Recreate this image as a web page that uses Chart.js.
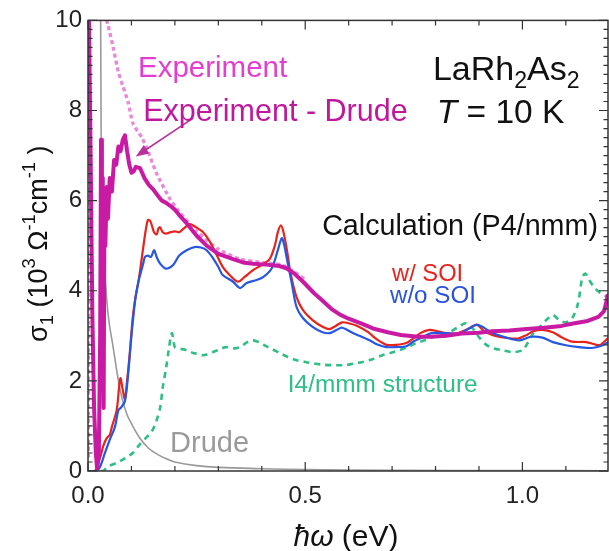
<!DOCTYPE html>
<html><head><meta charset="utf-8">
<script src="https://cdn.jsdelivr.net/npm/chart.js@4"></script>
<style>html,body{margin:0;padding:0;background:#fff}</style>
</head><body>
<canvas id="c" width="609" height="551"></canvas>
<script>
// ---- data (photon energy in eV, sigma_1 in 10^3 Ohm^-1 cm^-1) ----
const expE =     [0.001,0.003,0.02,0.040,0.043,0.046,0.058,0.070,0.080,0.092,0.104,0.124,0.136,0.158,0.188,0.210,0.250,0.300,0.350,0.400,0.450,0.500];
const expSigma = [0.3,  14,   14,  10.3, 10.0, 9.9,  9.4,  8.85, 8.55, 8.2,  7.7,  7.4,  7.15, 6.6,  6.05, 5.75, 5.32, 4.92, 4.7,  4.63, 4.56, 4.25];

const expDrudeE =     [0.001,0.006,0.010,0.014,0.018,0.021,0.025,0.028,0.030,0.032,0.034,0.036,0.038,0.040,0.043,0.046,0.050,0.055,0.060,0.065,0.070,0.075,0.080,0.085,0.090,0.095,0.100,0.105,0.110,0.120,0.130,0.140,0.150,0.160,0.170,0.180,0.190,0.200,0.210,0.227,0.250,0.273,0.300,0.334,0.360,0.380,0.410,0.440,0.457,0.475,0.495,0.520,0.540,0.560,0.580,0.600,0.630,0.660,0.690,0.720,0.760,0.790,0.825,0.860,0.900,0.930,0.970,1.010,1.050,1.090,1.120,1.150,1.175,1.188,1.197];
const expDrudeSigma = [11,   7,    3.5,  1.4,  0.4,  0.05, 0.4,  3.0,  7.35, 4.2,  6.5,  1.4,  6.2,  5.0,  6.3,  5.6,  6.5,  6.2,  6.9,  6.8,  7.2,  7.1,  7.35, 7.45, 7.1,  6.8,  6.62, 6.65, 6.75, 6.72, 6.5,  6.35, 6.25, 6.12, 6.0,  5.95, 5.88, 5.8,  5.68, 5.5,  5.22, 5.0,  4.82, 4.7,  4.62, 4.6,  4.58, 4.55, 4.5,  4.38, 4.2,  3.95, 3.78, 3.6,  3.47, 3.38, 3.27, 3.15, 3.08, 3.02, 2.98, 2.98, 3.0,  3.05, 3.07, 3.1,  3.12, 3.15, 3.18, 3.22, 3.28, 3.33, 3.42, 3.55, 3.9];

const soiE =     [0,0.016,0.028,0.035,0.043,0.050,0.055,0.066,0.072,0.075,0.080,0.085,0.090,0.096,0.103,0.110,0.116,0.122,0.127,0.133,0.138,0.143,0.147,0.152,0.158,0.162,0.166,0.172,0.180,0.190,0.200,0.210,0.220,0.235,0.250,0.265,0.280,0.296,0.310,0.326,0.345,0.360,0.380,0.400,0.418,0.430,0.437,0.444,0.450,0.458,0.466,0.480,0.495,0.517,0.540,0.555,0.570,0.585,0.600,0.620,0.645,0.665,0.687,0.710,0.733,0.750,0.765,0.786,0.805,0.825,0.845,0.862,0.880,0.895,0.910,0.930,0.960,0.990,1.010,1.025,1.046,1.070,1.090,1.115,1.147,1.170,1.180,1.197];
const soiSigma = [0,0,    0.3,  0.55, 0.73, 0.8,  0.98, 1.35, 1.9,  2.06, 1.8,  1.6,  2.0,  2.6,  3.4,  3.9,  4.2,  4.6,  4.95, 5.35, 5.57, 5.55, 5.45, 5.3,  5.25, 5.38, 5.41, 5.3,  5.27, 5.3,  5.32, 5.3,  5.38, 5.48, 5.4,  5.3,  5.1,  4.8,  4.53, 4.35, 4.2,  4.3,  4.46, 4.57, 4.7,  5.0,  5.3,  5.45, 5.3,  4.9,  4.4,  3.86, 3.57, 3.35, 3.2,  3.15, 3.22, 3.3,  3.28, 3.22, 3.08, 2.92, 2.8,  2.8,  2.84, 2.95, 3.06, 3.13, 3.1,  3.06, 3.05, 3.1,  3.18, 3.25, 3.12, 3.02, 2.96, 2.94, 3.02, 3.1,  3.13, 3.08, 2.97, 2.87, 2.86, 2.8,  2.8,  2.95];

const noSoiE =     [0,0.020,0.028,0.039,0.050,0.062,0.070,0.077,0.085,0.092,0.100,0.108,0.115,0.120,0.127,0.131,0.138,0.145,0.152,0.158,0.166,0.177,0.185,0.196,0.210,0.227,0.245,0.260,0.273,0.288,0.300,0.310,0.334,0.350,0.365,0.388,0.403,0.423,0.437,0.446,0.452,0.457,0.469,0.480,0.495,0.517,0.540,0.556,0.572,0.585,0.610,0.625,0.648,0.668,0.687,0.710,0.733,0.750,0.770,0.790,0.820,0.855,0.875,0.894,0.908,0.931,0.963,0.993,1.020,1.046,1.070,1.100,1.130,1.160,1.182,1.197];
const noSoiSigma = [0,0,    0.1,  0.4,  0.69, 0.98, 1.35, 1.42, 1.55, 2.1,  3.0,  3.75, 4.15, 4.35, 4.6,  4.75, 4.78, 4.75, 4.9,  4.75, 4.6,  4.5,  4.5,  4.57, 4.78, 4.9,  4.97, 4.96, 4.9,  4.72, 4.53, 4.35, 4.2,  4.06, 4.17, 4.24, 4.3,  4.5,  4.9,  5.17, 5.0,  4.75, 4.17, 3.64, 3.39, 3.2,  3.08, 3.06, 3.13, 3.18, 3.06, 3.0,  2.9,  2.8,  2.75, 2.75, 2.77, 2.88, 2.97, 3.06, 3.06, 3.05, 3.15, 3.24, 3.2,  3.06, 2.96, 2.9,  2.98, 2.96, 2.86, 2.79, 2.75, 2.73, 2.78, 2.86];

const i4E =     [0.030,0.035,0.046,0.066,0.080,0.090,0.103,0.120,0.135,0.147,0.157,0.166,0.172,0.180,0.186,0.193,0.200,0.210,0.227,0.242,0.265,0.285,0.303,0.318,0.334,0.350,0.365,0.380,0.395,0.410,0.425,0.441,0.460,0.480,0.500,0.517,0.540,0.560,0.590,0.610,0.632,0.655,0.678,0.700,0.717,0.740,0.756,0.775,0.793,0.812,0.832,0.850,0.870,0.885,0.900,0.917,0.935,0.954,0.977,1.000,1.012,1.025,1.040,1.055,1.070,1.085,1.100,1.115,1.128,1.138,1.145,1.153,1.165,1.177,1.190,1.197];
const i4Sigma = [0,    0,    0.1,  0.18, 0.25, 0.31, 0.4,  0.6,  0.75, 0.88, 1.1,  1.4,  1.85, 2.3,  2.7,  3.06, 2.75, 2.72, 2.68, 2.62, 2.57, 2.63, 2.7,  2.75, 2.72, 2.75, 2.85, 2.9,  2.85, 2.77, 2.7,  2.62, 2.53, 2.46, 2.42, 2.39, 2.36, 2.35, 2.35, 2.38, 2.42, 2.48, 2.57, 2.63, 2.68, 2.77, 2.84, 2.9,  2.97, 3.02, 3.08, 3.18, 3.28, 3.17, 2.97, 2.8,  2.72, 2.68, 2.64, 2.68, 2.84, 3.06, 3.2,  3.35, 3.46, 3.35, 3.3,  3.4,  3.72, 4.3,  4.38, 4.25, 4.08, 3.97, 3.9,  3.8];

const drudeE =     [0.029,0.030,0.031,0.033,0.036,0.040,0.045,0.050,0.057,0.065,0.072,0.080,0.090,0.100,0.120,0.140,0.160,0.180,0.200,0.250,0.300,0.400,0.500,0.700,1.000,1.197];
const drudeSigma = [10.3, 8.0,  6.5,  5.5,  4.8,  4.2,  3.6,  3.2,  2.8,  2.3,  1.9,  1.55, 1.25, 1.05, 0.72, 0.5,  0.37, 0.27, 0.2,  0.12, 0.08, 0.05, 0.03, 0.015,0.01, 0.005];

const xTickValues = [0, 0.5, 1.0];
const xTickLabels = ['0.0', '0.5', '1.0'];
const yTickValues = [0, 2, 4, 6, 8, 10];
const yTickLabels = ['0', '2', '4', '6', '8', '10'];

// ---- helpers ----
const FF = '"Liberation Sans", Arial, Helvetica, sans-serif';
const pts = (xs, ys) => xs.map((x, i) => ({x, y: ys[i]}));
function ds(label, xs, ys, color, width, dash, order, tension) {
  return {label, data: pts(xs, ys), borderColor: color, borderWidth: width, borderDash: dash,
    showLine: true, pointRadius: 0, fill: false, order, tension, clip: 0, borderJoinStyle: 'round', borderCapStyle: dash.length ? 'butt' : 'round'};
}

function drawRich(ctx, parts, x, y, size, color, align) {
  ctx.save();
  ctx.fillStyle = color;
  ctx.textBaseline = 'alphabetic';
  ctx.textAlign = 'left';
  const spec = parts.map(p => {
    let fs = size, dy = 0;
    if (p.s === 'sub') { fs = size * 0.68; dy = size * 0.22; }
    if (p.s === 'sup') { fs = size * 0.68; dy = -size * 0.45; }
    const font = (p.i ? 'italic ' : '') + fs + 'px ' + FF;
    ctx.font = font;
    return {t: p.t, font, dy, w: ctx.measureText(p.t).width};
  });
  const total = spec.reduce((a, b) => a + b.w, 0);
  let cx = align === 'center' ? x - total / 2 : x;
  for (const s of spec) { ctx.font = s.font; ctx.fillText(s.t, cx, y + s.dy); cx += s.w; }
  ctx.restore();
}

const annotations = {
  id: 'annotations',
  afterDraw(chart) {
    const {ctx, chartArea: a, scales: {x, y}} = chart;
    ctx.save();
    // frame
    ctx.strokeStyle = '#333'; ctx.lineWidth = 1.5;
    ctx.strokeRect(a.left, a.top, a.right - a.left, a.bottom - a.top);
    // x ticks (bottom & top)
    ctx.lineWidth = 1.2;
    for (let k = 0; k <= 11; k++) {
      const v = k / 10, px = x.getPixelForValue(v);
      const len = (k % 5 === 0) ? 9 : 5;
      ctx.beginPath();
      ctx.moveTo(px, a.bottom); ctx.lineTo(px, a.bottom - len);
      ctx.moveTo(px, a.top); ctx.lineTo(px, a.top + len);
      ctx.stroke();
    }
    // y ticks (left & right)
    for (let k = 0; k <= 50; k++) {
      const v = k / 5, py = y.getPixelForValue(v);
      const len = (k % 10 === 0) ? 9 : 4.5;
      ctx.beginPath();
      ctx.moveTo(a.left, py); ctx.lineTo(a.left + len, py);
      ctx.moveTo(a.right, py); ctx.lineTo(a.right - len, py);
      ctx.stroke();
    }
    // arrow
    const tx = x.getPixelForValue(0.242), ty = y.getPixelForValue(7.83);
    const hx = x.getPixelForValue(0.11), hy = y.getPixelForValue(6.98);
    const ang = Math.atan2(hy - ty, hx - tx);
    ctx.strokeStyle = '#b8329c'; ctx.fillStyle = '#b8329c'; ctx.lineWidth = 1.6;
    ctx.beginPath(); ctx.moveTo(tx, ty); ctx.lineTo(hx - 9 * Math.cos(ang), hy - 9 * Math.sin(ang)); ctx.stroke();
    ctx.beginPath();
    ctx.moveTo(hx, hy);
    ctx.lineTo(hx - 13 * Math.cos(ang) + 5 * Math.sin(ang), hy - 13 * Math.sin(ang) - 5 * Math.cos(ang));
    ctx.lineTo(hx - 13 * Math.cos(ang) - 5 * Math.sin(ang), hy - 13 * Math.sin(ang) + 5 * Math.cos(ang));
    ctx.closePath(); ctx.fill();
    ctx.restore();

    const P = (vx, vy) => [x.getPixelForValue(vx), y.getPixelForValue(vy)];
    let p;
    p = P(0.115, 8.74); drawRich(ctx, [{t: 'Experiment'}], p[0], p[1], 29.5, '#e23ecf');
    p = P(0.127, 7.76); drawRich(ctx, [{t: 'Experiment - Drude'}], p[0], p[1], 30.5, '#c0189c');
    p = P(0.794, 8.67); drawRich(ctx, [{t: 'LaRh'}, {t: '2', s: 'sub'}, {t: 'As'}, {t: '2', s: 'sub'}], p[0], p[1], 34, '#111');
    p = P(0.803, 7.72); drawRich(ctx, [{t: 'T', i: true}, {t: ' = 10 K'}], p[0], p[1], 33.5, '#111');
    p = P(0.539, 5.23); drawRich(ctx, [{t: 'Calculation (P4/nmm)'}], p[0], p[1], 28.7, '#111');
    p = P(0.700, 4.21); drawRich(ctx, [{t: 'w/ SOI'}], p[0], p[1], 23.7, '#e8231c');
    p = P(0.695, 3.73); drawRich(ctx, [{t: 'w/o SOI'}], p[0], p[1], 24.2, '#2a52de');
    p = P(0.460, 1.75); drawRich(ctx, [{t: 'I4/mmm structure'}], p[0], p[1], 24.4, '#2cbf86');
    p = P(0.189, 0.42); drawRich(ctx, [{t: 'Drude'}], p[0], p[1], 29, '#9a9a9a');

    // axis titles
    drawRich(ctx, [{t: 'ħω', i: true}, {t: ' (eV)'}], 346, 546, 30, '#111', 'center');
    ctx.save();
    ctx.translate(47, (a.top + a.bottom) / 2 - 2);
    ctx.rotate(-Math.PI / 2);
    drawRich(ctx, [{t: 'σ'}, {t: '1', s: 'sub'}, {t: ' (10'}, {t: '3', s: 'sup'}, {t: ' Ω'}, {t: '-1', s: 'sup'}, {t: 'cm'}, {t: '-1', s: 'sup'}, {t: ' )'}], 0, 0, 27, '#111', 'center');
    ctx.restore();
  }
};

new Chart(document.getElementById('c'), {
  type: 'scatter',
  data: {datasets: [
    ds('Experiment - Drude', expDrudeE, expDrudeSigma, '#c91aa3', 4, [], 1, 0),
    ds('w/o SOI', noSoiE, noSoiSigma, '#2557e2', 2.2, [], 2, 0.3),
    ds('w/ SOI', soiE, soiSigma, '#e8231c', 2.2, [], 3, 0.3),
    ds('Experiment', expE, expSigma, '#e98ad9', 3.4, [4, 3], 4, 0.2),
    ds('I4/mmm', i4E, i4Sigma, '#2fbf84', 2.6, [6, 5], 5, 0.3),
    ds('Drude', drudeE, drudeSigma, '#999999', 1.6, [], 6, 0.3)
  ]},
  options: {
    responsive: false, animation: false, devicePixelRatio: 1,
    layout: {padding: {left: 0, right: 1, top: 20, bottom: 0}},
    plugins: {legend: {display: false}, tooltip: {enabled: false}},
    scales: {
      x: {type: 'linear', min: 0, max: 1.197,
        grid: {display: false, drawTicks: false}, border: {display: false},
        afterBuildTicks: s => { s.ticks = xTickValues.map(v => ({value: v})); },
        afterFit: s => { s.height = 80; },
        ticks: {padding: 11, color: '#222', font: {size: 24, family: FF},
          callback: v => xTickLabels[xTickValues.indexOf(v)] ?? ''}},
      y: {type: 'linear', min: 0, max: 10,
        grid: {display: false, drawTicks: false}, border: {display: false},
        afterBuildTicks: s => { s.ticks = yTickValues.map(v => ({value: v})); },
        afterFit: s => { s.width = 88; },
        ticks: {padding: 6, color: '#222', font: {size: 24, family: FF},
          callback: v => yTickLabels[yTickValues.indexOf(v)] ?? ''}}
    }
  },
  plugins: [annotations]
});
</script>
</body></html>
